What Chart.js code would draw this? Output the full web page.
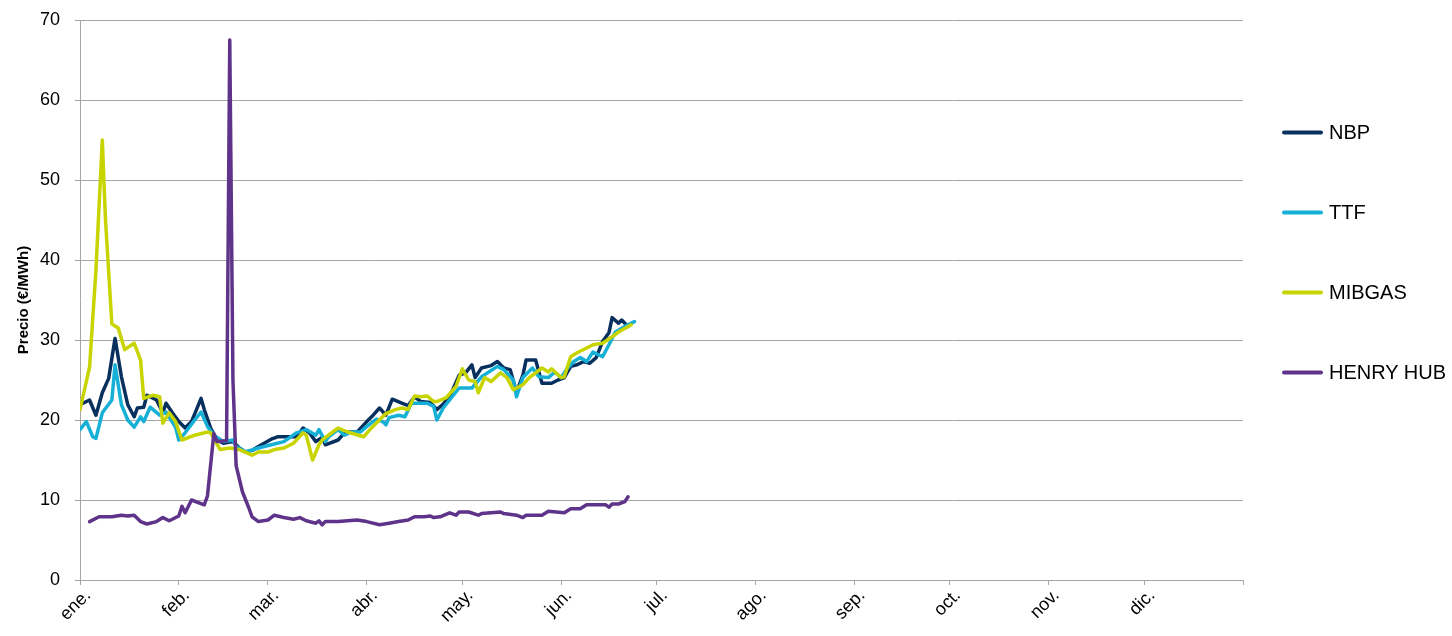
<!DOCTYPE html>
<html lang="es">
<head>
<meta charset="utf-8">
<title>Precio gas</title>
<script src="https://cdn.jsdelivr.net/npm/chart.js@4.4.1/dist/chart.umd.min.js"></script>
<style>
  html, body { margin: 0; padding: 0; background: #fff; }
  #wrap { position: relative; width: 1452px; height: 636px; }
  #legend { position: absolute; left: 1282px; top: 0; font: 20px "Liberation Sans", Arial, sans-serif; color: #000; }
  #legend .item { position: absolute; left: 0; display: flex; align-items: center; white-space: nowrap; transform: translateY(-50%); }
  #legend .swatch { width: 41px; height: 4px; border-radius: 2px; margin-right: 6px; }
</style>
</head>
<body>
<div id="wrap">
  <canvas id="chart"></canvas>
  <div id="legend"></div>
</div>
<script>
/* ── axis labels ───────────────────────────── */
const monthLabels = ['ene.', 'feb.', 'mar.', 'abr.', 'may.', 'jun.', 'jul.', 'ago.', 'sep.', 'oct.', 'nov.', 'dic.'];
const monthStarts = [0, 31, 59, 90, 120, 151, 181, 212, 243, 273, 304, 334];

/* ── series (x = day of year, y = €/MWh) ───── */
const nbpDays = [0, 3, 5, 7, 9, 11, 13, 15, 17, 18, 20, 21, 24, 26, 27, 29, 31, 33, 35, 38, 39, 41, 43, 45, 48, 50, 52, 54, 56, 60, 62, 68, 70, 72, 74, 76, 77, 81, 83, 85, 87, 90, 92, 94, 96, 98, 101, 103, 105, 107, 110, 112, 114, 116, 119, 121, 123, 124, 126, 129, 131, 133, 135, 137, 139, 140, 143, 145, 148, 150, 152, 154, 156, 158, 160, 162, 164, 166, 167, 169, 170, 172];
const nbpVals = [21.9, 22.5, 20.6, 23.4, 25.2, 30.2, 25.4, 21.9, 20.4, 21.5, 21.6, 23.1, 22.5, 20.9, 22.1, 20.9, 19.8, 19.0, 19.8, 22.7, 21.3, 19.0, 17.5, 17.1, 17.3, 16.5, 16.0, 16.2, 16.7, 17.6, 17.9, 17.9, 19.0, 18.4, 17.3, 17.8, 16.9, 17.5, 18.4, 18.5, 18.5, 19.8, 20.6, 21.5, 20.6, 22.6, 22.1, 21.8, 22.9, 22.3, 22.2, 21.3, 22.0, 22.9, 25.6, 25.9, 26.9, 25.3, 26.5, 26.8, 27.3, 26.5, 26.3, 23.5, 25.6, 27.5, 27.5, 24.6, 24.6, 25.0, 25.3, 26.7, 26.9, 27.3, 27.1, 27.8, 29.8, 30.9, 32.8, 32.1, 32.5, 31.7];

const ttfDays = [0, 2, 4, 5, 7, 10, 11, 13, 15, 17, 19, 20, 22, 25, 27, 30, 31, 33, 36, 38, 40, 42, 45, 48, 49, 52, 56, 60, 64, 68, 71, 74, 75, 77, 78, 81, 83, 85, 88, 90, 93, 95, 96, 97, 100, 102, 104, 109, 111, 112, 114, 119, 123, 126, 131, 133, 136, 137, 139, 142, 144, 147, 149, 151, 153, 155, 157, 159, 161, 164, 166, 168, 171, 174];
const ttfVals = [18.8, 19.8, 17.9, 17.7, 20.9, 22.5, 26.9, 21.9, 20.0, 19.1, 20.4, 19.8, 21.6, 20.6, 21.0, 19.1, 17.5, 18.4, 20.0, 21.0, 19.2, 18.1, 17.3, 17.5, 16.7, 16.0, 16.5, 16.9, 17.3, 18.4, 18.8, 18.1, 18.8, 17.3, 17.9, 18.8, 18.1, 18.5, 18.5, 19.2, 20.1, 19.8, 19.4, 20.3, 20.6, 20.4, 22.1, 22.1, 21.7, 20.0, 21.5, 24.0, 24.0, 25.4, 26.7, 26.3, 25.0, 22.9, 25.3, 26.5, 25.4, 25.3, 26.0, 25.3, 26.5, 27.3, 27.8, 27.3, 28.5, 27.9, 29.4, 31.0, 31.7, 32.3];

const mibgasDays = [0, 3, 5, 7, 8, 10, 12, 14, 17, 19, 20, 23, 25, 26, 28, 30, 32, 36, 40, 41, 44, 47, 50, 54, 56, 59, 61, 64, 67, 70, 71, 73, 75, 76, 78, 81, 84, 89, 91, 96, 99, 101, 103, 105, 107, 109, 111, 112, 115, 118, 120, 122, 124, 125, 127, 129, 132, 134, 136, 139, 141, 145, 147, 148, 151, 152, 154, 156, 159, 161, 164, 167, 169, 173];
const mibgasVals = [21.3, 26.6, 38.7, 55.0, 45.0, 32.0, 31.5, 28.8, 29.6, 27.5, 22.7, 23.1, 22.9, 19.6, 20.9, 19.8, 17.5, 18.1, 18.5, 18.4, 16.3, 16.5, 16.3, 15.6, 16.0, 16.0, 16.3, 16.5, 17.1, 18.4, 18.1, 15.0, 16.9, 17.5, 18.1, 19.0, 18.5, 17.9, 18.8, 20.8, 21.3, 21.5, 21.3, 23.0, 22.9, 23.0, 22.3, 22.3, 22.8, 24.2, 26.4, 25.0, 24.8, 23.4, 25.3, 24.8, 25.9, 25.3, 23.8, 24.4, 25.3, 26.5, 26.0, 26.4, 25.3, 25.4, 27.9, 28.4, 29.0, 29.4, 29.6, 30.4, 31.0, 31.9];

const henryDays = [3, 6, 10, 13, 15, 17, 19, 21, 24, 26, 28, 31, 32, 33, 35, 39, 40, 42, 43, 46, 47, 48, 49, 51, 53, 54, 56, 59, 61, 63, 64, 67, 69, 71, 74, 75, 76, 77, 81, 87, 90, 94, 97, 100, 103, 105, 108, 110, 111, 113, 116, 118, 119, 122, 125, 126, 129, 132, 133, 137, 139, 140, 145, 147, 152, 154, 157, 159, 165, 166, 167, 169, 171, 172];
const henryVals = [7.3, 7.9, 7.9, 8.1, 8.0, 8.1, 7.3, 7.0, 7.3, 7.8, 7.4, 8.0, 9.2, 8.4, 10.0, 9.4, 10.5, 18.3, 17.3, 17.4, 67.5, 25.0, 14.3, 11.0, 9.0, 7.9, 7.3, 7.5, 8.1, 7.9, 7.8, 7.6, 7.8, 7.4, 7.1, 7.4, 6.9, 7.3, 7.3, 7.5, 7.3, 6.9, 7.1, 7.3, 7.5, 7.9, 7.9, 8.0, 7.8, 7.9, 8.4, 8.1, 8.5, 8.5, 8.1, 8.3, 8.4, 8.5, 8.3, 8.1, 7.8, 8.1, 8.1, 8.6, 8.4, 8.9, 8.9, 9.4, 9.4, 9.1, 9.5, 9.5, 9.8, 10.4];

const pts = (days, vals) => days.map((d, i) => ({ x: d, y: vals[i] }));

const series = [
    { label: 'NBP',       color: '#07305E', data: pts(nbpDays, nbpVals),       order: 3 },
    { label: 'TTF',       color: '#16B0D6', data: pts(ttfDays, ttfVals),       order: 2 },
    { label: 'MIBGAS',    color: '#C8D400', data: pts(mibgasDays, mibgasVals), order: 1 },
    { label: 'HENRY HUB', color: '#5E3389', data: pts(henryDays, henryVals),   order: 0 }
];

const FONT = '"Liberation Sans", Arial, sans-serif';
const GRID = '#A6A6A6';

new Chart(document.getElementById('chart'), {
    type: 'line',
    data: {
        datasets: series.map(s => ({
            label: s.label, data: s.data, order: s.order,
            borderColor: s.color, backgroundColor: s.color,
            borderWidth: 3.5, pointRadius: 0, tension: 0,
            borderJoinStyle: 'round', borderCapStyle: 'round', fill: false
        }))
    },
    options: {
        responsive: true, maintainAspectRatio: false, animation: false,
        layout: { padding: { top: 20, right: 209, left: 0, bottom: 0 } },
        plugins: { legend: { display: false }, tooltip: { enabled: false } },
        scales: {
            x: {
                type: 'linear', min: 0, max: 365,
                afterBuildTicks: axis => { axis.ticks = monthStarts.concat([365]).map(v => ({ value: v })); },
                afterFit: axis => { axis.height = 56; axis.paddingLeft = 0; axis.paddingRight = 0; },
                grid: { display: true, drawOnChartArea: false, color: GRID, tickLength: 5 },
                border: { color: GRID },
                ticks: {
                    autoSkip: false, minRotation: 45, maxRotation: 45, padding: 0, labelOffset: 8,
                    color: '#000', font: { family: FONT, size: 18 },
                    callback: (v, i) => monthLabels[i] || ''
                }
            },
            y: {
                min: 0, max: 70,
                afterFit: axis => { axis.width = 80; axis.paddingTop = 0; axis.paddingBottom = 0; },
                grid: { color: GRID, tickLength: 5 },
                border: { color: GRID },
                ticks: { stepSize: 10, padding: 15, color: '#000', font: { family: FONT, size: 18 } },
                title: { display: true, text: 'Precio (€/MWh)', color: '#000', padding: { top: 15, bottom: 0 }, font: { family: FONT, size: 15, weight: 'bold' } }
            }
        }
    }
});

// legend on the right, spaced like the original
const legend = document.getElementById('legend');
series.forEach((s, i) => {
    const item = document.createElement('div');
    item.className = 'item';
    item.style.top = (132 + i * 80) + 'px';
    item.innerHTML = '<span class="swatch" style="background:' + s.color + '"></span><span>' + s.label + '</span>';
    legend.appendChild(item);
});
</script>
</body>
</html>
